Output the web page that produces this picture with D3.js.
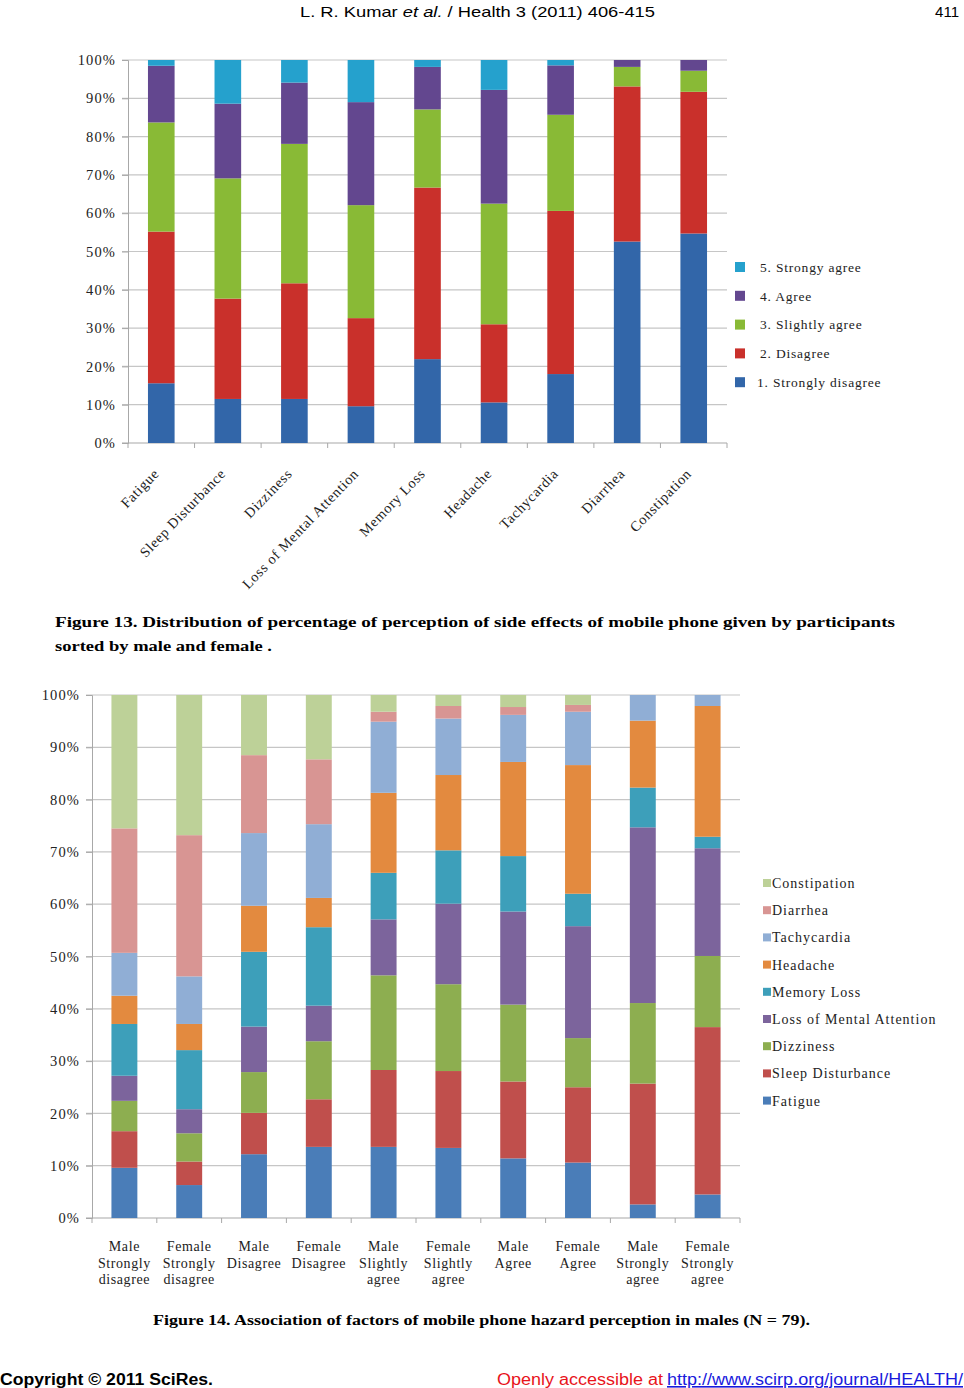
<!DOCTYPE html>
<html><head><meta charset="utf-8">
<script src="https://cdn.jsdelivr.net/npm/d3@7"></script>
<style>
html,body{margin:0;padding:0;background:#fff;}
svg{display:block;}
</style></head>
<body>
<svg id="page" width="964" height="1388"></svg>
<script>
// ---------- Figure 13 data ----------
const symptoms = ["Fatigue","Sleep Disturbance","Dizziness","Loss of Mental Attention","Memory Loss","Headache","Tachycardia","Diarrhea","Constipation"];
const levelNames = ["1. Strongly disagree","2. Disagree","3. Slightly agree","4. Agree","5. Strongy agree"];
const levelColors = ["#3266a9","#c9302b","#89ba36","#63478f","#25a1cd"];
const stronglyDisagree = [15.6,11.5,11.5,9.6,21.9,10.6,18.0,52.6,54.7];
const disagree        = [39.6,26.2,30.2,23.0,44.8,20.4,42.6,40.5,37.0];
const slightlyAgree   = [28.5,31.4,36.4,29.5,20.4,31.5,25.1,5.1,5.5];
const agree           = [14.8,19.5,16.0,26.9,11.1,29.7,12.9,1.8,2.8];
const stronglyAgree   = [1.5,11.4,5.9,11.0,1.8,7.8,1.4,0,0];
const yTicks = [0,10,20,30,40,50,60,70,80,90,100];

// ---------- Figure 14 data ----------
const groups = [["Male","Strongly","disagree"],["Female","Strongly","disagree"],["Male","Disagree"],["Female","Disagree"],["Male","Slightly","agree"],["Female","Slightly","agree"],["Male","Agree"],["Female","Agree"],["Male","Strongly","agree"],["Female","Strongly","agree"]];
const factorNames = ["Fatigue","Sleep Disturbance","Dizziness","Loss of Mental Attention","Memory Loss","Headache","Tachycardia","Diarrhea","Constipation"];
const factorColors = ["#4a7db8","#c04f4c","#8dae50","#7c649c","#3d9fba","#e38a3f","#90aed5","#d89593","#bdd198"];
const fatigue      = [9.6,6.3,12.2,13.6,13.6,13.4,11.4,10.6,2.6,4.5];
const sleepDist    = [7.0,4.5,7.9,9.1,14.7,14.7,14.7,14.4,23.1,32.0];
const dizziness    = [5.8,5.4,7.8,11.1,18.1,16.6,14.7,9.4,15.4,13.6];
const mentalAtt    = [4.8,4.6,8.7,6.8,10.7,15.4,17.8,21.4,33.6,20.6];
const memoryLoss   = [9.9,11.3,14.3,15.0,8.9,10.2,10.6,6.2,7.6,2.2];
const headache     = [5.4,5.0,8.8,5.6,15.3,14.4,18.0,24.6,12.8,25.0];
const tachycardia  = [8.2,9.1,13.9,14.1,13.6,10.8,9.0,10.2,4.9,2.1];
const diarrhea     = [23.8,27.0,14.9,12.4,1.9,2.4,1.5,1.3,0,0];
const constipation = [25.5,26.8,11.5,12.3,3.2,2.1,2.3,1.9,0,0];

const svg = d3.select("#page");
const serif = "'Liberation Serif','Times New Roman',serif";
const sans = "'Liberation Sans',Arial,sans-serif";
const gridColor = "#c6c6c6";
const axisColor = "#a8a8a8";

// ---------- header ----------
const hdr = svg.append("text").attr("x",300).attr("y",17).attr("font-family",sans).attr("font-size",15)
  .attr("textLength",355).attr("lengthAdjust","spacingAndGlyphs").attr("fill","#000");
hdr.append("tspan").text("L. R. Kumar ");
hdr.append("tspan").attr("font-style","italic").text("et al.");
hdr.append("tspan").text(" / Health 3 (2011) 406-415");
svg.append("text").attr("x",959).attr("y",17).attr("text-anchor","end").attr("font-family",sans).attr("font-size",15).text("411");

// ---------- generic stacked chart ----------
function stackedChart(opt){
  const g = svg.append("g");
  const x = d3.scaleBand().domain(d3.range(opt.n)).range([opt.x0,opt.x1]).paddingInner(0.6).paddingOuter(0.3);
  const y = d3.scaleLinear().domain([0,100]).range([opt.y0,opt.y1]);
  g.append("g").selectAll("line").data(yTicks.filter(t=>t>0)).join("line")
    .attr("x1",opt.x0-6).attr("x2",opt.x1).attr("y1",d=>y(d)).attr("y2",d=>y(d))
    .attr("stroke",gridColor).attr("stroke-width",1.2);
  const ya = g.append("g").attr("transform",`translate(${opt.x0},0)`)
    .call(d3.axisLeft(y).tickValues(yTicks).tickFormat(d=>d+"%").tickSize(6).tickPadding(opt.tickPad));
  ya.select(".domain").attr("stroke",axisColor);
  ya.selectAll(".tick line").attr("stroke",axisColor);
  ya.selectAll(".tick text").attr("font-family",serif).attr("font-size",opt.yFont).attr("fill","#222").attr("letter-spacing",opt.ySpacing);
  g.append("line").attr("x1",opt.x0-6).attr("x2",opt.x1).attr("y1",y(0)).attr("y2",y(0)).attr("stroke",axisColor).attr("stroke-width",1.2);
  const step = x.step();
  g.append("g").selectAll("line").data(d3.range(opt.n+1)).join("line")
    .attr("x1",d=>opt.x0+d*step).attr("x2",d=>opt.x0+d*step).attr("y1",y(0)).attr("y2",y(0)+5)
    .attr("stroke",axisColor);
  const rows = d3.range(opt.n).map(i=>{const r={i}; opt.series.forEach((s,k)=>r[k]=s[i]); return r;});
  const stack = d3.stack().keys(d3.range(opt.series.length))(rows);
  g.append("g").selectAll("g").data(stack).join("g").attr("fill",(d,k)=>opt.colors[k])
    .selectAll("rect").data(d=>d).join("rect")
    .attr("x",d=>x(d.data.i)).attr("width",x.bandwidth())
    .attr("y",d=>y(d[1])).attr("height",d=>Math.max(0,y(d[0])-y(d[1])));
  return {x,y,g};
}

// ---------- Figure 13 ----------
const c1 = stackedChart({n:symptoms.length,x0:128,x1:727,y0:443,y1:60,
  series:[stronglyDisagree,disagree,slightlyAgree,agree,stronglyAgree],colors:levelColors,
  yFont:14.5,ySpacing:1.1,tickPad:6});
c1.g.append("g").selectAll("text").data(symptoms).join("text")
  .attr("transform",(d,i)=>`translate(${c1.x(i)+c1.x.bandwidth()/2-5},${471}) rotate(-46)`)
  .attr("text-anchor","end").attr("dy","0.35em")
  .attr("font-family",serif).attr("font-size",14.3).attr("letter-spacing",0.7).attr("fill","#222").text(d=>d);
const leg1 = c1.g.append("g").selectAll("g").data(d3.range(levelNames.length).reverse()).join("g")
  .attr("transform",(d,j)=>`translate(735,${267+j*28.8})`);
leg1.append("rect").attr("x",0).attr("y",-5).attr("width",10).attr("height",10).attr("fill",d=>levelColors[d]);
leg1.append("text").attr("x",d=>d===0?22:25).attr("y",0).attr("dy","0.35em").attr("font-family",serif).attr("font-size",13.5)
  .attr("letter-spacing",0.8).attr("fill","#222").text(d=>levelNames[d]);

// caption 13
svg.append("text").attr("x",55).attr("y",627).attr("font-family",serif).attr("font-weight","bold").attr("font-size",14.5)
  .attr("textLength",840).attr("lengthAdjust","spacingAndGlyphs")
  .text("Figure 13. Distribution of percentage of perception of side effects of mobile phone given by participants");
svg.append("text").attr("x",55).attr("y",651).attr("font-family",serif).attr("font-weight","bold").attr("font-size",14.5)
  .attr("textLength",217).attr("lengthAdjust","spacingAndGlyphs")
  .text("sorted by male and female .");

// ---------- Figure 14 ----------
const c2 = stackedChart({n:groups.length,x0:92,x1:740,y0:1218,y1:695,
  series:[fatigue,sleepDist,dizziness,mentalAtt,memoryLoss,headache,tachycardia,diarrhea,constipation],colors:factorColors,
  yFont:14.5,ySpacing:1.1,tickPad:6});
const xl = c2.g.append("g").selectAll("text").data(groups).join("text")
  .attr("x",(d,i)=>c2.x(i)+c2.x.bandwidth()/2).attr("y",1251)
  .attr("text-anchor","middle").attr("font-family",serif).attr("font-size",14).attr("letter-spacing",0.6).attr("fill","#222");
xl.selectAll("tspan").data(d=>d).join("tspan").attr("x",function(){return this.parentNode.getAttribute("x");})
  .attr("dy",(d,k)=>k===0?0:16.5).text(d=>d);
const leg2 = c2.g.append("g").selectAll("g").data(d3.range(factorNames.length).reverse()).join("g")
  .attr("transform",(d,j)=>`translate(763,${883+j*27.2})`);
leg2.append("rect").attr("x",0).attr("y",-4).attr("width",8).attr("height",8).attr("fill",d=>factorColors[d]);
leg2.append("text").attr("x",9).attr("y",0).attr("dy","0.35em").attr("font-family",serif).attr("font-size",14)
  .attr("letter-spacing",1).attr("fill","#222").text(d=>factorNames[d]);

// caption 14
svg.append("text").attr("x",153).attr("y",1325).attr("font-family",serif).attr("font-weight","bold").attr("font-size",14.5)
  .attr("textLength",657).attr("lengthAdjust","spacingAndGlyphs")
  .text("Figure 14. Association of factors of mobile phone hazard perception in males (N = 79).");

// ---------- footer ----------
svg.append("text").attr("x",0).attr("y",1385).attr("font-family",sans).attr("font-weight","bold").attr("font-size",16)
  .attr("textLength",213).attr("lengthAdjust","spacingAndGlyphs").text("Copyright © 2011 SciRes.");
svg.append("text").attr("x",497).attr("y",1385).attr("font-family",sans).attr("font-size",16).attr("fill","#e8141b")
  .attr("textLength",166).attr("lengthAdjust","spacingAndGlyphs").text("Openly accessible at");
svg.append("text").attr("x",667).attr("y",1385).attr("font-family",sans).attr("font-size",16).attr("fill","#1a1adc")
  .attr("text-decoration","underline").attr("textLength",296).attr("lengthAdjust","spacingAndGlyphs")
  .text("http://www.scirp.org/journal/HEALTH/");
</script>
</body></html>
